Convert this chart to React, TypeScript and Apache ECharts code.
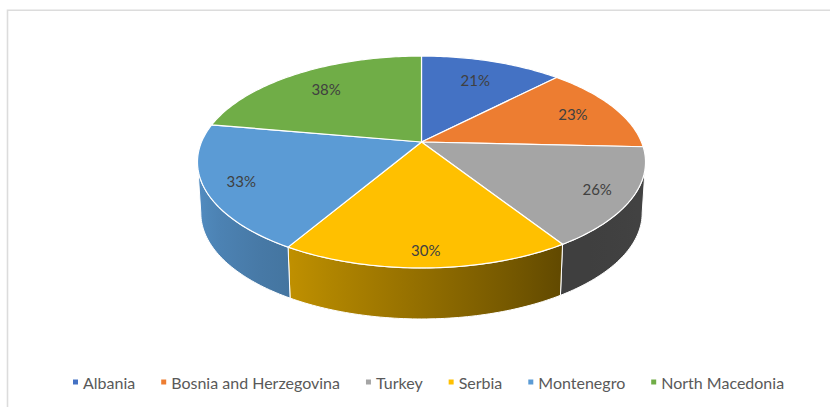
import React, { useEffect, useRef } from "react";
import * as echarts from "echarts";

const categories = [
  "Albania",
  "Bosnia and Herzegovina",
  "Turkey",
  "Serbia",
  "Montenegro",
  "North Macedonia",
];
const values = [21, 23, 26, 30, 33, 38];
const valueLabels = ["21%", "23%", "26%", "30%", "33%", "38%"];

const COLORS = ["#4472C4", "#ED7D31", "#A5A5A5", "#FFC000", "#5B9BD5", "#70AD47"];

// projection geometry of the tilted pie (style / layout constants)
const CX = 421.5;
const CY = 142;
const A = 220;
const B = 102.2;
const K = 0.1887;
const DEPTH = 51;
const BOTTOM_SX = 0.985;
const VIS_LO = 100.9;
const VIS_HI = 259.1;
const LIGHT: number[][] = [
  [95, 0.41],
  [147, 0.38],
  [210, 0.75],
  [265, 0.95],
];
const FONT = "Lato, 'Noto Sans', sans-serif";

const total = values.reduce((s, v) => s + v, 0);
const starts: number[] = [];
{
  let acc = 0;
  for (const v of values) {
    starts.push((acc / total) * 360);
    acc += v;
  }
}

function proj(deg: number, r = 1, bottom = false): number[] {
  const t = (deg * Math.PI) / 180;
  const u = r * Math.sin(t);
  const v = r * Math.cos(t);
  const s = 1 + K * v;
  let dx = (A * u) / s;
  const dy = (-B * v) / s;
  if (bottom) dx *= BOTTOM_SX;
  return [CX + dx, CY + dy + (bottom ? DEPTH : 0)];
}

function arc(from: number, to: number, bottom: boolean): number[][] {
  const n = Math.max(2, Math.ceil(Math.abs(to - from) / 1));
  const pts: number[][] = [];
  for (let j = 0; j <= n; j++) {
    pts.push(proj(from + ((to - from) * j) / n, 1, bottom));
  }
  return pts;
}

function lightAt(deg: number): number {
  if (deg <= LIGHT[0][0]) return LIGHT[0][1];
  for (let i = 1; i < LIGHT.length; i++) {
    if (deg <= LIGHT[i][0]) {
      const [d0, f0] = LIGHT[i - 1];
      const [d1, f1] = LIGHT[i];
      return f0 + ((f1 - f0) * (deg - d0)) / (d1 - d0);
    }
  }
  return LIGHT[LIGHT.length - 1][1];
}

function shade(hex: string, f: number): string {
  const n = parseInt(hex.slice(1), 16);
  const r = Math.min(255, Math.round(((n >> 16) & 255) * f));
  const g = Math.min(255, Math.round(((n >> 8) & 255) * f));
  const b = Math.min(255, Math.round((n & 255) * f));
  return `rgb(${r},${g},${b})`;
}

function makeRenderItem(color: string) {
  return (_params: any, api: any) => {
    const idx = api.value(1);
    const val = api.value(0);
    const a0 = starts[idx];
    const a1 = a0 + (val / total) * 360;
    const children: any[] = [];

    const lo = Math.max(a0, VIS_LO);
    const hi = Math.min(a1, VIS_HI);
    if (hi > lo) {
      const top = arc(lo, hi, false);
      const bot = arc(hi, lo, true);
      const pts = top.concat(bot);
      let minX = Infinity;
      let maxX = -Infinity;
      for (const p of pts) {
        minX = Math.min(minX, p[0]);
        maxX = Math.max(maxX, p[0]);
      }
      const stops: any[] = [];
      const ns = 6;
      for (let j = 0; j <= ns; j++) {
        const d = lo + ((hi - lo) * j) / ns;
        const x = proj(d)[0];
        stops.push({
          offset: Math.max(0, Math.min(1, (x - minX) / (maxX - minX))),
          color: shade(color, lightAt(d)),
        });
      }
      stops.sort((p, q) => p.offset - q.offset);
      stops[0].offset = 0;
      stops[stops.length - 1].offset = 1;
      children.push({
        type: "polygon",
        shape: { points: pts },
        style: {
          fill: new echarts.graphic.LinearGradient(0, 0, 1, 0, stops),
          stroke: "#ffffff",
          lineWidth: 1,
          lineJoin: "round",
        },
      });
    }

    const facePts = [[CX, CY]].concat(arc(a0, a1, false));
    children.push({
      type: "polygon",
      shape: { points: facePts },
      style: { fill: color, stroke: "#ffffff", lineWidth: 1.2, lineJoin: "round" },
    });

    const mid = (a0 + a1) / 2;
    const edge = proj(mid);
    const f = 0.81 - 0.05 * Math.cos((mid * Math.PI) / 180);
    children.push({
      type: "text",
      style: {
        text: valueLabels[idx],
        x: CX + f * (edge[0] - CX),
        y: CY + f * (edge[1] - CY),
        align: "center",
        verticalAlign: "middle",
        fill: "#404040",
        fontSize: 15,
        fontFamily: FONT,
      },
    });
    return { type: "group", children };
  };
}

export default function App() {
  const ref = useRef<HTMLDivElement>(null);
  useEffect(() => {
    if (!ref.current) return;
    const chart = echarts.init(ref.current, undefined, { renderer: "svg" });
    chart.setOption({
      animation: false,
      backgroundColor: "#ffffff",
      legend: {
        data: categories,
        left: 73,
        top: 374,
        padding: 0,
        icon: "rect",
        itemWidth: 5,
        itemHeight: 5,
        itemGap: 26,
        selectedMode: false,
        textStyle: { color: "#595959", fontSize: 16, fontFamily: FONT },
      },
      graphic: [
        {
          type: "rect",
          shape: { x: 7.5, y: 10.2, width: 900, height: 500 },
          style: { fill: "none", stroke: "#DCDCDC", lineWidth: 1.6 },
          silent: true,
        },
      ],
      series: categories.map((name, i) => ({
        type: "custom",
        name,
        coordinateSystem: "none",
        silent: true,
        itemStyle: { color: COLORS[i] },
        renderItem: makeRenderItem(COLORS[i]),
        data: [{ name, value: [values[i], i] }],
      })),
    });
    return () => chart.dispose();
  }, []);
  return (
    <div
      ref={ref}
      style={{ position: "absolute", left: 0, top: 0, width: 830, height: 407 }}
    />
  );
}
